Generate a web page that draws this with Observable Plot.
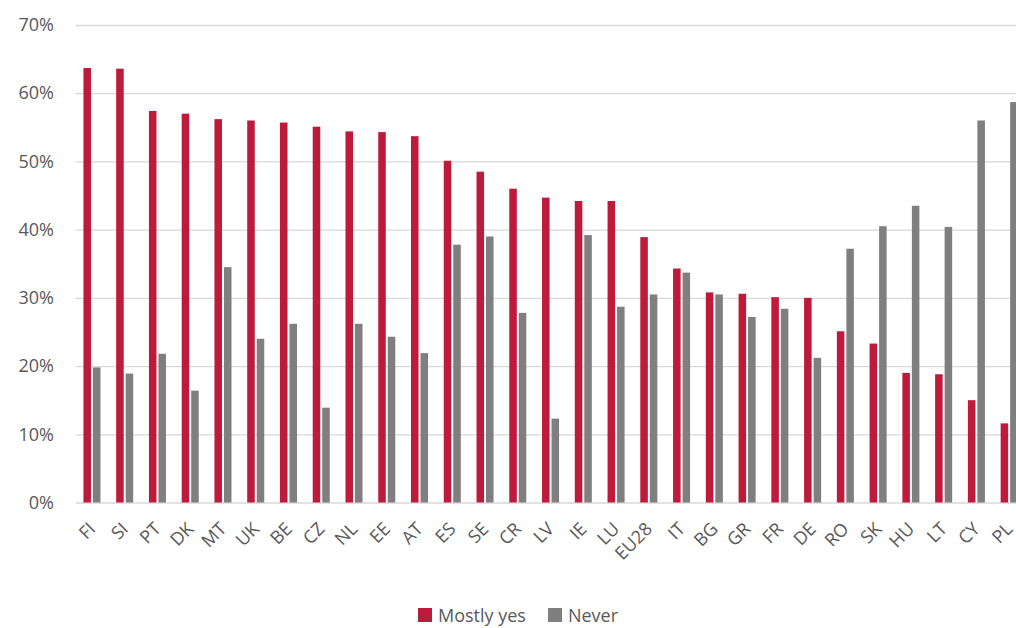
<!DOCTYPE html>
<html>
<head>
<meta charset="utf-8">
<script src="https://cdn.jsdelivr.net/npm/d3@7"></script>
<script src="https://cdn.jsdelivr.net/npm/@observablehq/plot@0.6"></script>
<style>
  body { margin: 0; background: #fff; overflow: hidden; width: 1016px; height: 628px; position: relative; font-family: "Open Sans", sans-serif; }
  #chart { position: absolute; left: 0; top: 0; width: 1026px; }
  #chart svg { max-width: none !important; width: 1026px !important; height: 580px !important; }
  .legend { position: absolute; left: 418px; top: 603px; display: flex; align-items: center; font-size: 18px; color: #595959; white-space: nowrap; }
  .legend .sw { width: 14px; height: 14px; margin-right: 6px; }
  .legend .item { display: flex; align-items: center; margin-right: 22px; }
</style>
</head>
<body>
<div id="chart"></div>
<div class="legend" id="legend"></div>
<script>
// Countries in display order, with the share answering "Mostly yes" and "Never" (percent)
const countries = ["FI","SI","PT","DK","MT","UK","BE","CZ","NL","EE","AT","ES","SE","CR","LV","IE","LU","EU28","IT","BG","GR","FR","DE","RO","SK","HU","LT","CY","PL"];
const mostlyYes = [63.7,63.6,57.4,57.0,56.2,56.0,55.7,55.1,54.4,54.3,53.7,50.1,48.5,46.0,44.7,44.2,44.2,38.9,34.3,30.8,30.6,30.1,30.0,25.1,23.3,19.0,18.8,15.0,11.6];
const never     = [19.8,18.9,21.8,16.4,34.5,24.0,26.2,13.9,26.2,24.3,21.9,37.8,39.0,27.8,12.3,39.2,28.7,30.5,33.7,30.5,27.2,28.4,21.2,37.2,40.5,43.5,40.4,56.0,58.7];
const yTicks = [0, 0.1, 0.2, 0.3, 0.4, 0.5, 0.6, 0.7];
const seriesNames = ["Mostly yes", "Never"];
const seriesColors = ["#BE1A3C", "#7F7F7F"];

const rows = countries.map((c, i) => ({country: c, yes: mostlyYes[i] / 100, never: never[i] / 100}));

const chart = Plot.plot({
  width: 1026,
  height: 580,
  marginTop: 25,
  marginBottom: 77.5,
  marginLeft: 75.5,
  marginRight: 0.5,
  style: {color: "#595959", fontSize: "18px", fontFamily: "Open Sans, sans-serif", background: "#fff"},
  // band range runs a little wider than the frame so each country gets an equal slot
  x: {domain: countries, range: [67.7, 1033.4], padding: 0.48, round: false},
  y: {domain: [0, 0.7]},
  marks: [
    Plot.ruleY(yTicks, {stroke: "#d9d9d9", strokeWidth: 1.3}),
    Plot.barY(rows, {x: "country", y: "yes", fill: seriesColors[0], insetRight: 9.5}),
    Plot.barY(rows, {x: "country", y: "never", fill: seriesColors[1], insetLeft: 9.5}),
    Plot.axisY({ticks: yTicks, tickFormat: d3.format(".0%"), tickSize: 0, tickPadding: 22, label: null}),
    Plot.axisX({tickRotate: -45, tickSize: 0, tickPadding: 23, label: null})
  ]
});
document.getElementById("chart").appendChild(chart);

// Legend below the chart
const legend = document.getElementById("legend");
seriesNames.forEach((name, i) => {
  const item = document.createElement("div");
  item.className = "item";
  const sw = document.createElement("div");
  sw.className = "sw";
  sw.style.background = seriesColors[i];
  const label = document.createElement("span");
  label.textContent = name;
  item.appendChild(sw);
  item.appendChild(label);
  legend.appendChild(item);
});
</script>
</body>
</html>
